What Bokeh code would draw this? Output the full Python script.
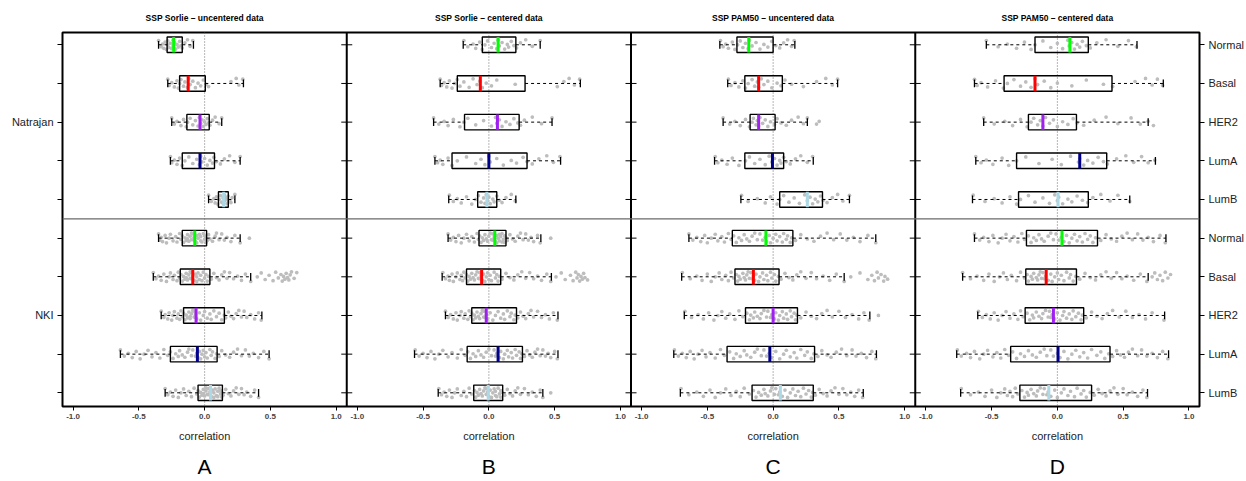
from bokeh.plotting import figure
from bokeh.models import LinearAxis, FixedTicker, Span, Range1d
from bokeh.embed import file_html
from bokeh.resources import INLINE

# ---------------- data ----------------
panels = ["A", "B", "C", "D"]
titles = ["SSP Sorlie \u2013 uncentered data", "SSP Sorlie \u2013 centered data",
          "SSP PAM50 \u2013 uncentered data", "SSP PAM50 \u2013 centered data"]
datasets = ["Natrajan", "NKI"]
subtypes = ["Normal", "Basal", "HER2", "LumA", "LumB"]
x_tick_values = [-1.0, -0.5, 0.0, 0.5, 1.0]
x_label = "correlation"

# box statistics per row (Natrajan: Normal, Basal, HER2, LumA, LumB, then NKI: same)
A_low  = [-0.35, -0.28, -0.25, -0.26, 0.03, -0.35, -0.39, -0.33, -0.64, -0.30]
A_q1   = [-0.285, -0.19, -0.135, -0.17, 0.105, -0.17, -0.185, -0.16, -0.26, -0.05]
A_med  = [-0.235, -0.125, -0.035, -0.035, 0.145, -0.075, -0.09, -0.065, -0.055, 0.045]
A_q3   = [-0.17, 0.005, 0.035, 0.075, 0.18, 0.015, 0.04, 0.15, 0.095, 0.135]
A_high = [-0.085, 0.295, 0.13, 0.27, 0.23, 0.27, 0.35, 0.435, 0.49, 0.41]

B_low  = [-0.195, -0.37, -0.42, -0.41, -0.305, -0.31, -0.355, -0.33, -0.565, -0.385]
B_q1   = [-0.05, -0.24, -0.185, -0.28, -0.085, -0.075, -0.17, -0.13, -0.165, -0.115]
B_med  = [0.07, -0.065, 0.065, 0.0, -0.015, 0.045, -0.055, -0.02, 0.07, -0.005]
B_q3   = [0.205, 0.275, 0.23, 0.29, 0.06, 0.13, 0.09, 0.21, 0.255, 0.105]
B_high = [0.39, 0.695, 0.48, 0.545, 0.205, 0.395, 0.475, 0.525, 0.525, 0.41]

C_low  = [-0.405, -0.345, -0.38, -0.445, -0.245, -0.64, -0.695, -0.675, -0.755, -0.705]
C_q1   = [-0.275, -0.215, -0.175, -0.215, 0.05, -0.31, -0.29, -0.21, -0.35, -0.16]
C_med  = [-0.185, -0.11, -0.11, -0.005, 0.26, -0.055, -0.15, 0.0, -0.025, 0.055]
C_q3   = [0.0, 0.07, 0.015, 0.08, 0.375, 0.15, 0.045, 0.185, 0.315, 0.305]
C_high = [0.165, 0.49, 0.26, 0.305, 0.58, 0.78, 0.54, 0.735, 0.785, 0.685]

D_low  = [-0.54, -0.63, -0.56, -0.62, -0.645, -0.63, -0.72, -0.605, -0.765, -0.735]
D_q1   = [-0.17, -0.405, -0.22, -0.31, -0.295, -0.235, -0.24, -0.245, -0.355, -0.285]
D_med  = [0.095, -0.17, -0.11, 0.17, 0.005, 0.035, -0.085, -0.03, 0.005, -0.065]
D_q3   = [0.235, 0.415, 0.145, 0.375, 0.235, 0.305, 0.145, 0.2, 0.4, 0.26]
D_high = [0.605, 0.805, 0.69, 0.745, 0.55, 0.825, 0.69, 0.815, 0.845, 0.685]

# individual correlations (x 100), one list per subtype row
A_pts_natrajan = [
    [-35,-33,-32,-31,-30,-29,-28,-28,-27,-26,-25,-24,-24,-23,-22,-21,-20,-19,-18,-17,-15,-13,-11,-9],
    [-28,-27,-25,-23,-21,-20,-19,-18,-16,-15,-13,-12,-11,-9,-7,-5,-3,-1,1,3,20,24,26,29],
    [-25,-23,-21,-18,-16,-14,-13,-11,-9,-7,-5,-4,-3,-2,-1,0,1,2,3,4,6,8,11,13],
    [-26,-25,-23,-21,-19,-17,-15,-12,-9,-6,-4,-3,-2,0,2,4,6,7,9,12,15,19,23,27],
    [3,5,7,8,9,10,11,12,13,14,14,15,15,16,17,17,18,18,19,20,21,23],
]
A_pts_nki = [
    [-35,-34,-33,-32,-30,-29,-27,-26,-24,-22,-21,-19,-18,-17,-16,-15,-14,-13,-13,-12,-11,-10,-10,-9,-8,-8,-7,-6,-6,-5,-4,-3,-3,-2,-1,0,0,1,1,2,3,4,6,8,9,11,13,15,17,20,23,27,34],
    [-39,-37,-35,-33,-31,-29,-27,-26,-24,-23,-21,-20,-19,-18,-17,-16,-15,-14,-14,-13,-12,-11,-11,-10,-10,-9,-8,-7,-6,-6,-5,-4,-3,-2,-1,0,1,2,3,5,7,9,11,13,15,17,19,22,25,28,31,35,40,43,46,49,52,54,56,58,59,60,61,62,63,64,65,66,68,70],
    [-33,-31,-30,-28,-27,-25,-24,-23,-21,-20,-19,-18,-17,-16,-15,-14,-13,-12,-11,-11,-10,-9,-8,-8,-7,-7,-6,-4,-3,-1,0,2,4,5,7,9,11,13,15,16,18,20,22,24,26,28,30,32,35,38,41,43],
    [-64,-61,-58,-55,-52,-49,-46,-43,-40,-37,-34,-31,-28,-26,-24,-22,-20,-19,-17,-15,-13,-12,-10,-9,-7,-6,-5,-4,-3,-2,-1,0,1,2,4,5,6,8,9,11,13,16,19,22,25,28,31,34,37,41,45,49],
    [-30,-28,-26,-24,-22,-20,-18,-16,-14,-12,-10,-8,-6,-5,-4,-3,-2,-1,-1,0,1,1,2,3,3,4,5,6,7,7,8,9,10,10,11,12,12,13,13,14,16,18,20,22,24,26,28,30,32,35,38,41],
]
B_pts_natrajan = [
    [-19,-16,-12,-10,-7,-5,-3,-1,2,4,6,7,8,10,12,14,15,17,19,21,24,28,33,39],
    [-37,-36,-34,-32,-30,-28,-26,-24,-22,-19,-15,-12,-9,-7,-5,-2,2,6,20,52,57,61,65,69],
    [-42,-38,-34,-31,-27,-22,-19,-16,-10,-4,2,5,6,8,10,13,16,19,22,24,27,33,40,48],
    [-41,-39,-37,-35,-31,-28,-24,-17,-10,-6,-3,0,1,6,11,17,21,26,29,33,38,44,49,54],
    [-30,-27,-24,-21,-17,-13,-10,-8,-6,-4,-3,-2,-1,0,1,3,4,6,8,10,13,17,20],
]
B_pts_nki = [
    [-31,-29,-27,-25,-23,-21,-19,-17,-15,-13,-11,-9,-8,-7,-6,-5,-4,-3,-2,-1,0,1,2,3,3,4,5,6,6,7,8,8,9,10,10,11,12,12,13,14,16,18,20,22,24,26,28,30,32,34,37,39,47],
    [-35,-33,-31,-30,-28,-27,-25,-24,-22,-21,-20,-19,-18,-17,-16,-15,-14,-13,-12,-11,-10,-9,-8,-7,-7,-6,-5,-4,-3,-2,-1,0,1,2,4,5,6,7,8,10,13,16,19,22,25,28,31,34,37,40,44,47,51,55,58,62,64,66,67,68,69,70,71,72,73,75],
    [-33,-31,-29,-27,-25,-24,-22,-21,-19,-18,-16,-15,-14,-13,-12,-11,-10,-9,-8,-7,-6,-5,-4,-4,-3,-2,-1,1,3,5,7,9,11,12,14,16,17,19,20,22,24,26,28,30,32,34,37,40,43,46,49,52],
    [-56,-53,-50,-47,-44,-41,-38,-35,-31,-28,-24,-21,-18,-16,-14,-12,-10,-8,-6,-4,-2,0,2,4,5,6,8,9,11,12,14,15,17,18,20,21,23,24,25,27,29,31,33,35,37,39,41,43,45,47,50,52],
    [-38,-36,-34,-32,-30,-28,-26,-24,-21,-19,-17,-15,-13,-11,-10,-9,-8,-7,-6,-5,-4,-3,-2,-2,-1,-1,0,1,2,3,4,5,5,6,7,8,9,9,10,12,14,16,18,20,22,24,27,30,33,36,39,41,47],
]
C_pts_natrajan = [
    [-40,-38,-36,-34,-31,-29,-27,-25,-23,-21,-19,-18,-16,-13,-10,-7,-4,-1,2,5,8,11,14,16],
    [-34,-32,-29,-26,-23,-21,-19,-16,-14,-12,-11,-9,-7,-4,-1,3,6,9,14,23,33,40,45,49],
    [-38,-33,-29,-25,-21,-18,-16,-15,-13,-12,-11,-10,-8,-6,-4,-2,1,3,6,10,14,19,23,26,33,35],
    [-44,-42,-39,-35,-31,-26,-21,-18,-14,-10,-6,-3,-1,1,3,5,6,8,10,13,17,21,26,30],
    [-24,-19,-12,-6,-2,3,5,8,12,16,20,24,26,28,30,32,34,36,38,41,45,49,53,58],
]
C_pts_nki = [
    [-64,-61,-58,-55,-52,-50,-47,-44,-42,-39,-37,-34,-32,-30,-28,-26,-24,-22,-20,-18,-16,-14,-12,-10,-8,-6,-5,-3,-2,0,2,3,5,7,8,10,11,13,14,17,21,26,31,36,41,46,51,56,61,66,72,78],
    [-69,-63,-58,-54,-50,-47,-44,-41,-39,-36,-34,-32,-30,-28,-27,-26,-25,-23,-22,-21,-20,-19,-18,-17,-16,-15,-14,-13,-11,-10,-8,-7,-5,-4,-2,-1,1,2,4,6,9,12,15,18,21,25,29,33,38,43,48,54,59,66,72,75,77,79,80,82,84,85,87],
    [-67,-62,-57,-53,-49,-45,-42,-39,-36,-33,-29,-26,-23,-20,-18,-17,-15,-14,-12,-10,-9,-7,-5,-4,-2,-1,1,2,4,5,7,8,10,11,13,14,16,17,18,21,25,29,33,37,41,45,50,55,60,65,69,73,80],
    [-75,-72,-69,-66,-63,-60,-57,-54,-51,-48,-44,-40,-37,-33,-30,-28,-25,-22,-20,-17,-14,-12,-9,-7,-5,-3,-1,2,5,8,10,13,16,18,21,24,26,29,31,34,37,41,44,48,52,56,60,63,67,71,75,78],
    [-70,-64,-58,-53,-48,-44,-40,-36,-32,-28,-25,-22,-18,-15,-13,-11,-9,-7,-6,-4,-2,-1,1,2,4,5,7,9,11,13,15,17,19,21,23,25,27,29,30,32,35,38,41,44,47,50,53,56,59,62,65,68],
]
D_pts_natrajan = [
    [-54,-45,-38,-31,-25,-20,-17,-11,-5,0,4,8,9,11,13,15,17,19,22,25,30,37,46,54,60],
    [-63,-61,-58,-53,-47,-41,-38,-33,-28,-24,-20,-17,-15,-10,-5,0,11,22,35,42,59,67,72,76,80],
    [-56,-48,-40,-34,-28,-23,-20,-18,-15,-13,-11,-9,-6,-3,0,4,8,12,15,20,28,37,46,56,63,69,73],
    [-62,-58,-54,-49,-42,-37,-31,-24,-14,-4,3,10,16,17,20,23,27,31,35,38,45,52,58,64,69,74],
    [-64,-55,-48,-42,-36,-31,-28,-22,-17,-11,-6,-2,0,1,4,8,11,15,19,23,27,33,40,46,55],
]
D_pts_nki = [
    [-63,-59,-56,-52,-49,-45,-42,-39,-36,-33,-30,-27,-25,-22,-20,-18,-16,-14,-12,-10,-7,-5,-3,-1,1,3,5,7,9,11,13,15,17,19,21,23,25,27,29,33,37,41,45,49,53,57,61,65,69,73,78,82],
    [-72,-66,-61,-56,-52,-48,-44,-41,-38,-35,-31,-28,-25,-23,-22,-20,-19,-18,-16,-15,-14,-13,-12,-11,-10,-9,-7,-5,-4,-2,0,1,3,5,7,9,10,12,14,17,21,25,29,33,37,41,45,49,53,58,63,68,72,74,76,78,80,82,84,86],
    [-60,-57,-54,-51,-48,-45,-42,-39,-36,-33,-30,-28,-26,-23,-21,-19,-18,-16,-14,-12,-11,-9,-7,-6,-5,-4,-2,0,2,4,5,7,9,11,12,14,16,18,19,22,26,30,34,38,42,47,52,57,62,67,72,81],
    [-76,-73,-69,-66,-63,-59,-56,-53,-49,-46,-43,-40,-37,-34,-31,-28,-25,-22,-19,-16,-13,-10,-8,-5,-3,0,2,5,8,11,14,17,20,23,26,30,33,36,39,42,45,48,51,54,57,61,64,68,72,76,80,84],
    [-73,-66,-60,-55,-50,-46,-43,-40,-38,-36,-34,-32,-30,-27,-25,-23,-22,-20,-18,-16,-15,-13,-11,-10,-8,-7,-5,-2,0,3,5,8,10,13,15,18,20,22,25,28,31,34,37,40,43,46,50,53,57,61,65,68],
]

# ---------------- style ----------------
FONT = "Liberation Sans"
MEDIAN_COLORS = ["#00FF00", "#FF0000", "#A020F0", "#00008B", "#ADD8E6"]
POINT_COLOR = "#BDBDBD"
JIT = [-0.11, 0.05, -0.02, 0.09, -0.07, 0.12, 0.0, -0.10, 0.07, -0.04, 0.10, -0.12,
       0.03, -0.06, 0.11, -0.01, 0.06, -0.09, 0.02, 0.08, -0.05, -0.13, 0.04]
STEP = 2.16          # width of one panel in data units (-1.08 .. 1.08)
BOX_H = 0.4
CAP_H = 0.2

W, H = 1246, 481
TOP, BOTTOM, LEFT, RIGHT = 32, 75, 62, 47
Y_TOP, Y_BOT = 0.682, 10.354

p = figure(width=W, height=H, output_backend="svg", toolbar_location=None,
           x_range=Range1d(-STEP / 2, -STEP / 2 + 4 * STEP),
           y_range=Range1d(Y_BOT, Y_TOP),
           x_axis_type=None, y_axis_type=None,
           min_border_left=LEFT, min_border_right=RIGHT,
           min_border_top=TOP, min_border_bottom=BOTTOM)
p.xgrid.visible = False
p.ygrid.visible = False
p.outline_line_color = "black"
p.outline_line_width = 2
p.background_fill_color = "white"
p.border_fill_color = "white"

rows = list(range(1, 11))

stats = {
    "A": (A_low, A_q1, A_med, A_q3, A_high, A_pts_natrajan + A_pts_nki),
    "B": (B_low, B_q1, B_med, B_q3, B_high, B_pts_natrajan + B_pts_nki),
    "C": (C_low, C_q1, C_med, C_q3, C_high, C_pts_natrajan + C_pts_nki),
    "D": (D_low, D_q1, D_med, D_q3, D_high, D_pts_natrajan + D_pts_nki),
}

for k, key in enumerate(panels):
    off = k * STEP
    lo, q1, med, q3, hi, pts = stats[key]
    p.add_layout(Span(location=off, dimension="height", line_color="#6E6E6E",
                      line_dash="1 2", line_width=1, level="underlay"))
    xs, ys = [], []
    for r, vals in zip(rows, pts):
        for i, v in enumerate(vals):
            xs.append(v / 100 + off)
            ys.append(r + JIT[i % len(JIT)])
    p.scatter(xs, ys, size=3.7, fill_color=POINT_COLOR, line_color=None)
    lo_o = [v + off for v in lo]
    q1_o = [v + off for v in q1]
    md_o = [v + off for v in med]
    q3_o = [v + off for v in q3]
    hi_o = [v + off for v in hi]
    p.segment(x0=lo_o, y0=rows, x1=q1_o, y1=rows, line_color="black",
              line_width=1, line_dash="3 3")
    p.segment(x0=q3_o, y0=rows, x1=hi_o, y1=rows, line_color="black",
              line_width=1, line_dash="3 3")
    ylo = [r - CAP_H / 2 for r in rows]
    yhi = [r + CAP_H / 2 for r in rows]
    p.segment(x0=lo_o, y0=ylo, x1=lo_o, y1=yhi, line_color="black", line_width=1.3)
    p.segment(x0=hi_o, y0=ylo, x1=hi_o, y1=yhi, line_color="black", line_width=1.3)
    p.hbar(y=rows, left=q1_o, right=q3_o, height=BOX_H, fill_color=None,
           line_color="black", line_width=1.4)
    p.segment(x0=md_o, y0=[r - BOX_H / 2 for r in rows], x1=md_o,
              y1=[r + BOX_H / 2 for r in rows], line_color=MEDIAN_COLORS * 2,
              line_width=3)

# panel separators and the ticks crossing them
for k in range(1, 4):
    b = -STEP / 2 + k * STEP
    p.add_layout(Span(location=b, dimension="height", line_color="black", line_width=2))
    p.scatter([b] * 10, rows, marker="dash", size=11, line_color="black", line_width=1)

# dataset separator
p.add_layout(Span(location=5.5, dimension="width", line_color="#6A6A6A", line_width=1.3))

centers = [k * STEP for k in range(4)]


def text_axis(labels, size, standoff, bold=False, color="black"):
    return LinearAxis(ticker=FixedTicker(ticks=centers),
                      major_label_overrides={c: t for c, t in zip(centers, labels)},
                      major_tick_out=0, major_tick_in=0, axis_line_color=None,
                      minor_tick_line_color=None, major_tick_line_color=None,
                      major_label_standoff=standoff, major_label_text_font=FONT,
                      major_label_text_font_size=size,
                      major_label_text_font_style="bold" if bold else "normal",
                      major_label_text_color=color)


# titles above each panel
p.add_layout(text_axis(titles, "8.5px", 10, bold=True), "above")

# bottom axis: each panel -1..1
ticks = []
overrides = {}
for k in range(4):
    for t in x_tick_values:
        tv = t + k * STEP
        ticks.append(tv)
        overrides[tv] = f"{t:.1f}"
xaxis = LinearAxis(ticker=FixedTicker(ticks=ticks), major_label_overrides=overrides,
                   major_tick_out=4, major_tick_in=0, axis_line_color=None,
                   minor_tick_line_color=None, major_label_standoff=3,
                   major_label_text_font=FONT, major_label_text_font_size="8px",
                   major_label_text_font_style="bold", major_tick_line_color="black")
p.add_layout(xaxis, "below")
p.add_layout(text_axis([x_label] * 4, "11px", 8, color="#222222"), "below")
p.add_layout(text_axis(panels, "21px", 10), "below")

# left axis: dataset names
left_over = {r: "" for r in rows}
left_over[3] = datasets[0]
left_over[8] = datasets[1]
yl = LinearAxis(ticker=FixedTicker(ticks=rows), major_label_overrides=left_over,
                major_tick_out=5, major_tick_in=0, axis_line_color=None,
                minor_tick_line_color=None, major_label_standoff=4,
                major_label_text_font=FONT, major_label_text_font_size="11px",
                major_label_text_color="#222222")
p.add_layout(yl, "left")

# right axis: subtype names
right_over = {r: subtypes[(r - 1) % 5] for r in rows}
yr = LinearAxis(ticker=FixedTicker(ticks=rows), major_label_overrides=right_over,
                major_tick_out=5, major_tick_in=0, axis_line_color=None,
                minor_tick_line_color=None, major_label_standoff=4,
                major_label_text_font=FONT, major_label_text_font_size="11px",
                major_label_text_color="#222222")
p.add_layout(yr, "right")

open("out.html", "w").write(file_html(p, INLINE))
